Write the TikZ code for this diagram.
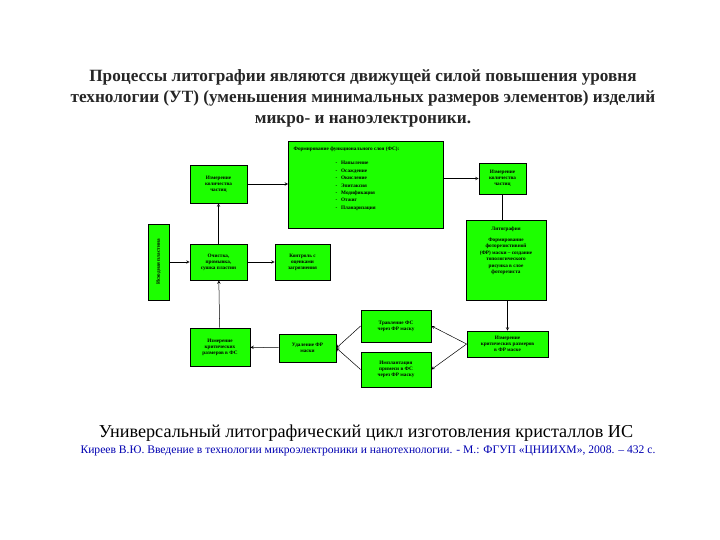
\documentclass[tikz,border=0pt]{standalone}
\usepackage{fontspec}
\setmainfont{Liberation Serif}
\begin{document}
\begin{tikzpicture}[x=1pt,y=-1pt,
 bx/.style={draw=black,fill=green!85!lime,line width=0.8pt,inner sep=1pt,font=\fontsize{5.2}{6}\selectfont\bfseries,align=center},
 ar/.style={->,>=stealth,line width=0.5pt}]
\useasboundingbox (0,0) rectangle (720,540);
\fill[white] (0,0) rectangle (720,540);
\node[font=\fontsize{17.2}{21}\selectfont\bfseries,align=center,text=black!85] (title) at (363,98)
 {Процессы литографии являются движущей силой повышения уровня\\технологии (УТ) (уменьшения минимальных размеров элементов) изделий\\микро- и наноэлектроники.};
\node[bx,minimum width=155,minimum height=87,anchor=north west,align=left] (fs) at (288,141) {};
\node[font=\fontsize{5.2}{6}\selectfont\bfseries,anchor=north west] (fst) at (290,143) {Формирование функционального слоя (ФС):};
\node[font=\fontsize{5.2}{7.4}\selectfont\bfseries,anchor=north west,align=left] (fsl) at (332,158) {- \ \ Напыление\\- \ \ Осаждение\\- \ \ Окисление\\- \ \ Эпитаксия\\- \ \ Модификация\\- \ \ Отжиг\\- \ \ Планаризация};
\node[bx,minimum width=57,minimum height=38] (m1) at (218.5,184) {Измерение\\количества\\частиц};
\node[bx,minimum width=47,minimum height=31] (m2) at (502.5,178.5) {Измерение\\количества\\частиц};
\node[bx,minimum width=76,minimum height=21,rotate=90] (src) at (158.5,262) {Исходная пластина};
\node[bx,minimum width=57,minimum height=36] (cl) at (218.5,262) {Очистка,\\промывка,\\сушка пластин};
\node[bx,minimum width=55,minimum height=36] (ct) at (302.5,262) {Контроль с\\оценками\\загрязнения};
\node[bx,minimum width=80,minimum height=80,anchor=north] (lit) at (506,220) {};
\node[font=\fontsize{5.2}{6.4}\selectfont\bfseries,align=center,anchor=north] (litt) at (506,223) {Литография\\[5pt]Формирование\\фоторезистивной\\(ФР) маски – создание\\топологического\\рисунка в слое\\фоторезиста};
\node[bx,minimum width=70,minimum height=32] (tr) at (396,326) {Травление ФС\\через ФР маску};
\node[bx,minimum width=70,minimum height=35] (im) at (396,369.5) {Имплантация\\примеси в ФС\\через ФР маску};
\node[bx,minimum width=57,minimum height=28] (ud) at (307.5,348) {Удаление ФР\\маски};
\node[bx,minimum width=60,minimum height=38] (mfs) at (220,347) {Измерение\\критических\\размеров в ФС};
\node[bx,minimum width=81,minimum height=26] (mfr) at (507.5,344) {Измерение\\критических размеров\\в ФР маске};
\draw[ar] (src) -- (cl);
\draw[ar] (cl) -- (m1);
\draw[ar] (m1) -- (fs.west|-m1);
\draw[ar] (fs.east|-m2) -- (m2);
\draw[line width=0.5pt] (m2.south) -- (m2.south|-lit.north);
\draw[ar] (lit.south-|mfr) -- (mfr);
\draw[ar] (mfr.west) -- (tr.east);
\draw[ar] (mfr.west) -- (im.east);
\draw[ar] (tr.west) -- (ud.east);
\draw[ar] (im.west) -- (ud.east);
\draw[ar] (ud) -- (mfs);
\draw[ar] (mfs) -- (cl);
\draw[ar] (cl) -- (ct);
\node[font=\fontsize{18.2}{20}\selectfont] (cap) at (366,433) {Универсальный литографический цикл изготовления кристаллов ИС};
\node[font=\fontsize{11.6}{12}\selectfont,text=blue!70!black] (ref) at (368,451) {Киреев В.Ю. Введение в технологии микроэлектроники и нанотехнологии. - М.: ФГУП «ЦНИИХМ», 2008. – 432 с.};
\end{tikzpicture}
\end{document}
